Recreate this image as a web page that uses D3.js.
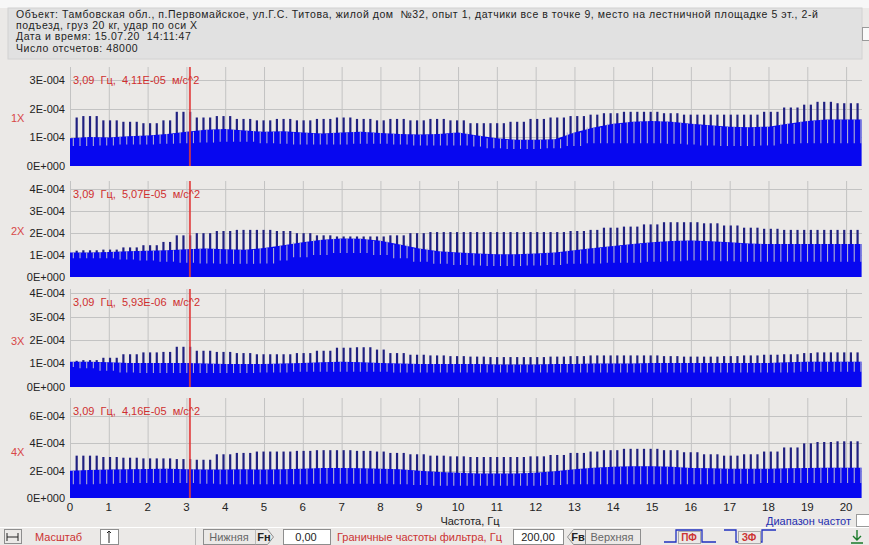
<!DOCTYPE html>
<html>
<head>
<meta charset="utf-8">
<script src="https://cdn.jsdelivr.net/npm/d3@7"></script>
<style>
body{margin:0;background:#ebe9e7;}
text{font-family:"Liberation Sans",Arial,sans-serif;white-space:pre;}
</style>
</head>
<body>
<div class="chart"></div>
<script>
var width = 869, height = 545;
var freqMax = 20.41;      // right edge of the frequency axis, Hz
var combStep = 0.172;     // spacing of the comb peaks, Hz
var cursorHz = 3.09;

var headerLines = [
    "Объект: Тамбовская обл., п.Первомайское, ул.Г.С. Титова, жилой дом  №32, опыт 1, датчики все в точке 9, место на лестничной площадке 5 эт., 2-й",
    "подъезд, груз 20 кг, удар по оси X",
    "Дата и время: 15.07.20  14:11:47",
    "Число отсчетов: 48000"
];
var channels = ["1X", "2X", "3X", "4X"];
var channelLabelAt = [1.68e-4, 2.09e-4, 1.97e-4, 3.36e-4];
var cursorText = [
    "3,09  Гц,  4,11E-05  м/с^2",
    "3,09  Гц,  5,07E-05  м/с^2",
    "3,09  Гц,  5,93E-06  м/с^2",
    "3,09  Гц,  4,16E-05  м/с^2"
];
var xTickLabels = [0,1,2,3,4,5,6,7,8,9,10,11,12,13,14,15,16,17,18,19,20];
var yTicks = [
    [0, 1e-4, 2e-4, 3e-4],
    [0, 1e-4, 2e-4, 3e-4, 4e-4],
    [0, 1e-4, 2e-4, 3e-4, 4e-4],
    [0, 2e-4, 4e-4, 6e-4]
];
var yMax = [3.47e-4, 4.38e-4, 4.19e-4, 7.32e-4];

// spectrum read at these frequencies, values in 1E-06 m/s^2
var binHz = [0,0.5,1,1.5,2,2.5,3,3.5,4,4.5,5,5.5,6,6.5,7,7.5,8,8.5,9,9.5,10,
             10.5,11,11.5,12,12.5,13,13.5,14,14.5,15,15.5,16,16.5,17,17.5,18,18.5,19,19.5,20,20.4];

var floor1 = [97,102,100,104,107,112,120,127,130,124,120,122,117,114,117,120,116,112,110,112,117,107,97,92,92,94,117,135,148,155,158,155,148,143,138,136,138,148,158,163,163,163];
var top1   = [170,175,160,155,150,160,190,170,175,165,160,165,160,165,170,165,160,165,160,165,160,150,150,155,165,170,175,180,185,190,190,185,180,180,180,180,190,205,215,225,220,220];
var dip1   = [70,70,72,75,75,78,80,82,85,85,80,78,75,75,75,78,78,75,72,72,72,68,62,60,60,62,70,80,80,80,80,78,75,72,70,70,72,78,80,80,80,80];

var floor2 = [112,112,114,117,120,122,127,130,127,124,132,145,158,170,176,174,165,148,130,117,112,107,104,104,107,112,122,132,142,150,158,164,166,163,158,153,150,150,150,150,150,150];
var top2   = [120,122,125,135,145,160,190,200,210,215,215,210,200,190,185,185,185,190,200,205,205,205,205,205,205,205,210,215,225,230,240,250,250,245,235,225,220,215,215,215,215,215];
var dip2   = [85,85,85,80,75,70,65,62,60,60,62,75,90,100,110,110,100,85,70,60,55,52,50,50,52,55,60,62,65,65,70,72,75,75,72,70,70,70,70,70,70,70];

var floor3 = [108,108,106,103,103,103,103,100,98,98,98,100,103,106,108,106,103,100,98,98,98,98,96,96,96,98,98,100,100,100,103,103,103,103,103,103,103,106,108,108,108,108];
var top3   = [112,115,125,140,148,150,172,155,150,145,140,140,145,155,168,170,160,145,138,135,132,130,128,128,128,130,132,135,135,135,135,132,130,130,132,135,138,140,145,148,148,148];
var dip3   = [85,80,70,62,60,60,60,60,60,60,62,62,65,65,65,65,65,62,62,62,62,62,62,62,62,62,62,62,62,62,62,62,62,62,62,62,62,62,65,65,65,65];

var floor4 = [200,205,208,210,212,215,210,208,208,210,208,210,215,220,220,218,215,210,200,190,185,180,180,180,185,195,210,222,228,232,232,228,220,218,215,215,215,218,220,222,222,222];
var top4   = [310,310,300,295,290,290,285,280,320,330,340,340,345,350,350,345,340,330,320,310,305,300,300,300,305,315,330,340,350,360,360,350,335,320,310,320,340,370,400,410,415,415];
var dip4   = [100,100,105,110,110,110,110,105,100,100,100,100,100,105,105,105,105,100,95,90,90,90,90,90,90,95,100,100,100,100,100,100,100,100,105,105,110,110,110,110,110,110];

var floors = [floor1, floor2, floor3, floor4];
var tops = [top1, top2, top3, top4];
var dips = [dip1, dip2, dip3, dip4];

var panelBox = [{top:67,bottom:166},{top:181,bottom:277},{top:289,bottom:387},{top:398,bottom:498}];
var plotLeft = 70, plotRight = 862;

var x = d3.scaleLinear().domain([0, freqMax]).range([plotLeft, plotRight]);

function sciLabel(v){
    if (v === 0) return "0E+000";
    var e = Math.floor(Math.log10(v) + 1e-9);
    var m = Math.round(v / Math.pow(10, e));
    return m + "E" + (e < 0 ? "-" : "+") + String(Math.abs(e)).padStart(3, "0");
}

function build_header(s){
    s.append("rect").attr("width", width).attr("height", 8).attr("fill", "#f7f7f7");
    s.append("rect").attr("x", 8).attr("y", 8).attr("width", 854).attr("height", 51)
        .attr("fill", "#e1e1e1").attr("stroke", "#d2d2d2");
    s.append("rect").attr("x", 862.5).attr("y", 27.5).attr("width", 8).attr("height", 13)
        .attr("fill", "#fafafa").attr("stroke", "#9a9a9a");
    s.selectAll(".hdr").data(headerLines).enter().append("text")
        .attr("class", "hdr")
        .attr("x", 16)
        .attr("y", function(d, i){ return 18 + i * 11.2; })
        .attr("font-size", "10.5px")
        .attr("letter-spacing", "0.55px")
        .attr("fill", "#1e1e1e")
        .text(function(d){ return d; });
}

function build_panel(s, k){
    var box = panelBox[k];
    var y = d3.scaleLinear().domain([0, yMax[k]]).range([box.bottom, box.top]);
    var g = s.append("g").attr("class", "panel");
    var spec = binHz.map(function(f, i){
        return {hz: f, floor: floors[k][i] * 1e-6, top: tops[k][i] * 1e-6, dip: dips[k][i] * 1e-6};
    });
    function nearest(f){ return spec[d3.bisectCenter(binHz, f)]; }

    // grid
    g.selectAll(".vgrid").data(xTickLabels).enter().append("line")
        .attr("x1", function(d){ return x(d) + 0.5; }).attr("x2", function(d){ return x(d) + 0.5; })
        .attr("y1", box.top).attr("y2", box.bottom)
        .attr("stroke", "#c3c3c3");
    g.selectAll(".hgrid").data(yTicks[k].slice(1)).enter().append("line")
        .attr("x1", plotLeft).attr("x2", plotRight)
        .attr("y1", function(d){ return Math.round(y(d)) + 0.5; })
        .attr("y2", function(d){ return Math.round(y(d)) + 0.5; })
        .attr("stroke", "#c3c3c3");

    // y labels
    g.selectAll(".ylab").data(yTicks[k]).enter().append("text")
        .attr("x", 65).attr("y", function(d){ return y(d); })
        .attr("dy", "0.35em").attr("text-anchor", "end")
        .attr("font-size", "11px").attr("fill", "#222")
        .text(sciLabel);
    g.append("text")
        .attr("x", 11).attr("y", y(channelLabelAt[k]))
        .attr("dy", "0.35em").attr("font-size", "11px").attr("fill", "#d84848")
        .text(channels[k]);

    // comb peaks above the floor
    var peaks = d3.range(combStep, freqMax, combStep);
    g.selectAll(".peak").data(peaks).enter().append("line")
        .attr("x1", function(d){ return x(d); }).attr("x2", function(d){ return x(d); })
        .attr("y1", y(0)).attr("y2", function(d){ return y(nearest(d).top); })
        .attr("stroke", "#202080").attr("stroke-width", 2.2);

    // floor of the spectrum
    var area = d3.area()
        .x(function(d){ return x(d.hz); })
        .y0(y(0))
        .y1(function(d){ return y(d.floor); });
    g.append("path").datum(spec).attr("d", area).attr("fill", "#0707f0");

    // notches between peaks
    var notches = d3.range(combStep / 2, freqMax, combStep);
    g.selectAll(".notch").data(notches).enter().append("line")
        .attr("x1", function(d){ return x(d); }).attr("x2", function(d){ return x(d); })
        .attr("y1", function(d){ return y(nearest(d).dip); })
        .attr("y2", function(d){ return y(nearest(d).floor); })
        .attr("stroke", "#aeaed4").attr("stroke-width", 1.1);

    // cursor
    g.append("line")
        .attr("x1", x(cursorHz)).attr("x2", x(cursorHz))
        .attr("y1", box.top).attr("y2", box.bottom)
        .attr("stroke", "#e23a3a").attr("stroke-width", 2).attr("opacity", 0.85);
    g.append("text")
        .attr("x", 73).attr("y", box.top + 13)
        .attr("dy", "0.35em").attr("font-size", "11px").attr("fill", "#cf2f2f")
        .text(cursorText[k]);
}

function build_xaxis(s){
    var yb = panelBox[3].bottom;
    s.selectAll(".xlab").data(xTickLabels).enter().append("text")
        .attr("x", function(d){ return x(d); }).attr("y", yb + 9)
        .attr("dy", "0.35em").attr("text-anchor", "middle")
        .attr("font-size", "11.5px").attr("fill", "#222")
        .text(function(d){ return d; });
    s.append("text").attr("x", 470).attr("y", 521).attr("dy", "0.35em")
        .attr("text-anchor", "middle").attr("font-size", "11px").attr("fill", "#222")
        .text("Частота, Гц");
    s.append("text").attr("x", 851).attr("y", 521).attr("dy", "0.35em")
        .attr("text-anchor", "end").attr("font-size", "11px").attr("fill", "#1f2fb0")
        .text("Диапазон частот");
    s.append("rect").attr("x", 856.5).attr("y", 514.5).attr("width", 13).attr("height", 12)
        .attr("fill", "#fff").attr("stroke", "#9a9a9a");
}

function box(s, x0, y0, w, h, fill){
    return s.append("rect").attr("x", x0 + 0.5).attr("y", y0 + 0.5).attr("width", w).attr("height", h)
        .attr("fill", fill).attr("stroke", "#8e8e8e");
}
function label(s, x0, y0, t, col, anchor){
    return s.append("text").attr("x", x0).attr("y", y0).attr("dy", "0.35em")
        .attr("font-size", "11px").attr("fill", col).attr("text-anchor", anchor || "start").text(t);
}

function build_toolbar(s){
    var yc = 537;
    s.append("line").attr("x1", 0).attr("x2", width).attr("y1", 527.5).attr("y2", 527.5).attr("stroke", "#fff");
    box(s, 4, 529, 17, 14, "#ebe9e7");
    s.append("path").attr("d", "M7,537h11M7,533v8M18,533v8").attr("stroke", "#222").attr("fill", "none");
    label(s, 35, yc, "Масштаб", "#cc3333");
    box(s, 100, 529, 18, 15, "#fff");
    s.append("path").attr("d", "M109,531v12M107,533l2,-2l2,2").attr("stroke", "#222").attr("fill", "none");
    s.append("line").attr("x1", 195.5).attr("x2", 195.5).attr("y1", 528).attr("y2", 545).attr("stroke", "#b8b8b8");

    box(s, 203, 529, 52, 15, "#ebe9e7");
    label(s, 229, yc, "Нижняя", "#666", "middle");
    s.append("path").attr("d", "M255.5,529.5h12l6,7.5l-6,7.5h-12").attr("fill", "#ebe9e7").attr("stroke", "#8e8e8e");
    label(s, 264, yc, "Fн", "#222", "middle").attr("font-weight", "bold");
    box(s, 283, 529, 47, 15, "#fff");
    label(s, 306, yc, "0,00", "#222", "middle");
    label(s, 337, yc, "Граничные частоты фильтра, Гц", "#cc3333");
    box(s, 513, 529, 50, 15, "#fff");
    label(s, 538, yc, "200,00", "#222", "middle");
    s.append("path").attr("d", "M585.5,529.5h-12l-6,7.5l6,7.5h12").attr("fill", "#ebe9e7").attr("stroke", "#8e8e8e");
    label(s, 578, yc, "Fв", "#222", "middle").attr("font-weight", "bold");
    box(s, 585, 529, 55, 15, "#ebe9e7");
    label(s, 612, yc, "Верхняя", "#666", "middle");

    s.append("path").attr("d", "M664,542h12v-12h26v12h14").attr("stroke", "#2030c0").attr("fill", "none").attr("stroke-width", 1.3);
    box(s, 678, 531, 22, 12, "#ebe9e7").attr("stroke", "#aaa");
    label(s, 689, yc, "ПФ", "#cc3333", "middle").attr("font-weight", "bold").attr("font-size", "10px");
    s.append("path").attr("d", "M724,530h12v12h26v-12h14").attr("stroke", "#2030c0").attr("fill", "none").attr("stroke-width", 1.3);
    box(s, 738, 531, 22, 12, "#ebe9e7").attr("stroke", "#aaa");
    label(s, 749, yc, "ЗФ", "#cc3333", "middle").attr("font-weight", "bold").attr("font-size", "10px");

    s.append("path").attr("d", "M857,530v10M853,536l4,4l4,-4M851,543h12").attr("stroke", "#1a7a2a")
        .attr("fill", "none").attr("stroke-width", 1.4);
}

function main(){
    var svg = d3.select(".chart").append("svg").attr("width", width).attr("height", height);
    svg.append("rect").attr("width", width).attr("height", height).attr("fill", "#ebe9e7");
    build_header(svg);
    for (var k = 0; k < 4; k++) build_panel(svg, k);
    build_xaxis(svg);
    build_toolbar(svg);
}

main();
</script>
</body>
</html>
